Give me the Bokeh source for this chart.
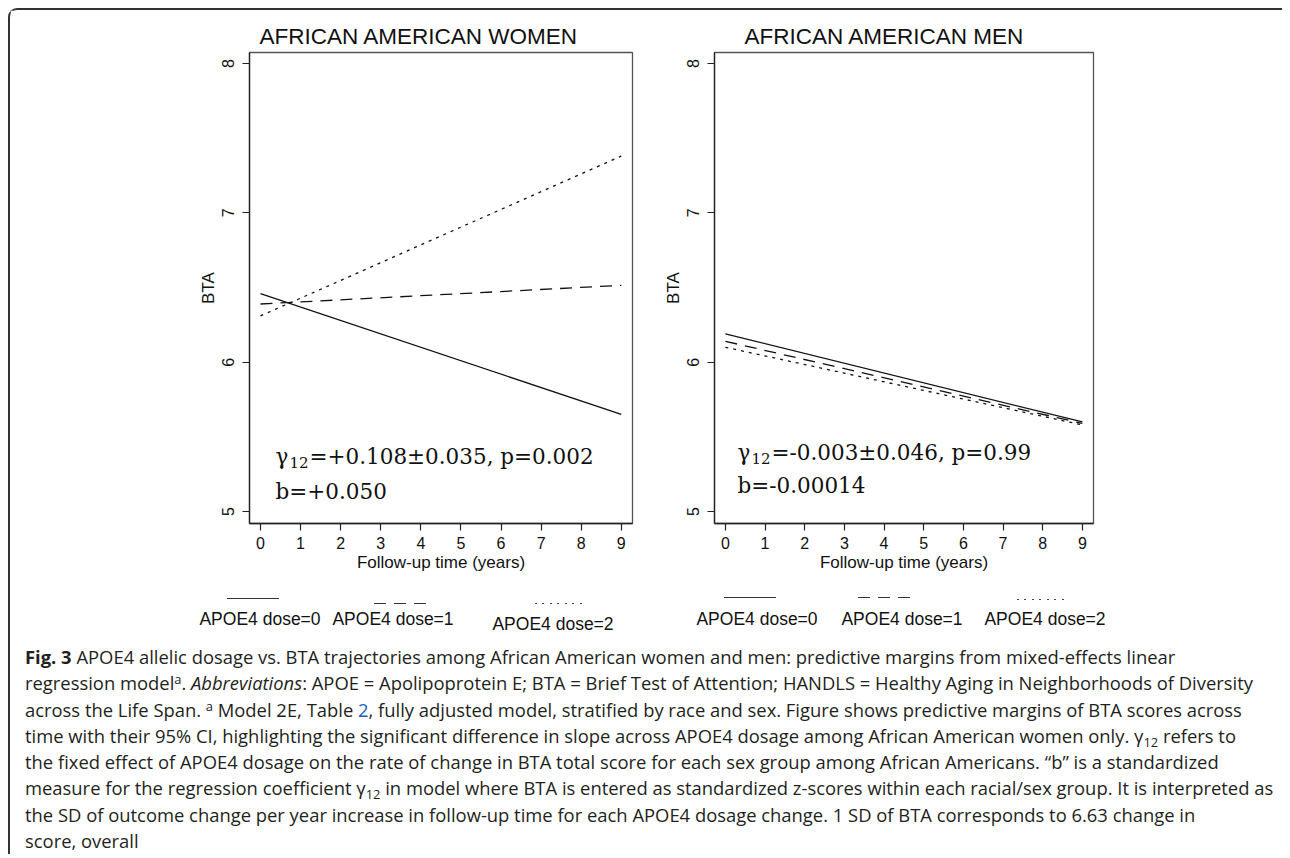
from bokeh.plotting import figure
from bokeh.models import Range1d, Label, Div, FixedTicker
from bokeh.layouts import row, column
from bokeh.embed import file_html
from bokeh.resources import INLINE

# ---------------- data ----------------
years = [0, 9]
women_dose0 = [6.46, 5.65]
women_dose1 = [6.39, 6.515]
women_dose2 = [6.31, 7.38]
men_dose0 = [6.19, 5.60]
men_dose1 = [6.14, 5.59]
men_dose2 = [6.10, 5.58]
x_ticks = [0, 1, 2, 3, 4, 5, 6, 7, 8, 9]
y_ticks = [5, 6, 7, 8]
legend_labels = ["APOE4 dose=0", "APOE4 dose=1", "APOE4 dose=2"]
panel_titles = ["AFRICAN AMERICAN WOMEN", "AFRICAN AMERICAN MEN"]
women_stats = ["=+0.108\u00b10.035, p=0.002", "b=+0.050"]
men_stats = ["=-0.003\u00b10.046, p=0.99", "b=-0.00014"]
x_label = "Follow-up time (years)"
y_label = "BTA"

DASHES = ["solid", "12 8", "3 5"]
SANS = "Liberation Sans"
SERIF = "DejaVu Serif"
INK = "#111111"


def make_panel(series, title, stats, width, bl, br, title_dx, stat_dx, stat_dy):
    p = figure(width=width, height=565, x_range=Range1d(-0.274, 9.28),
               y_range=Range1d(4.92, 8.074), min_border_left=bl, min_border_right=br,
               min_border_top=42, min_border_bottom=52,
               output_backend="svg", toolbar_location=None)
    p.grid.visible = False
    p.outline_line_color = "#555555"
    p.outline_line_width = 1.3

    p.title.text = title
    p.title.align = "left"
    p.title.offset = title_dx
    p.title.standoff = 7
    p.title.text_font = SANS
    p.title.text_font_size = "22.5px"
    p.title.text_font_style = "normal"
    p.title.text_color = INK

    for ax in (p.xaxis[0], p.yaxis[0]):
        ax.axis_line_color = "#222222"
        ax.axis_line_width = 1.3
        ax.major_tick_line_color = "#222222"
        ax.major_tick_line_width = 1.2
        ax.major_tick_out = 7
        ax.major_tick_in = 0
        ax.minor_tick_line_color = None
        ax.major_label_text_font = SANS
        ax.major_label_text_font_size = "16px"
        ax.major_label_text_color = INK
        ax.axis_label_text_font = SANS
        ax.axis_label_text_font_size = "17px"
        ax.axis_label_text_font_style = "normal"
        ax.axis_label_text_color = INK
    p.xaxis.ticker = FixedTicker(ticks=x_ticks)
    p.yaxis.ticker = FixedTicker(ticks=y_ticks)
    p.yaxis.major_label_orientation = "vertical"
    p.xaxis.axis_label = x_label
    p.yaxis.axis_label = y_label
    p.xaxis.major_label_standoff = 6
    p.xaxis.axis_label_standoff = 1
    p.yaxis.major_label_standoff = 8
    p.yaxis.axis_label_standoff = 2

    for ys, dash in zip(series, DASHES):
        p.line(years, ys, line_color=INK, line_width=1.3, line_dash=dash)

    y1, y2 = stat_dy
    p.add_layout(Label(x=stat_dx, y=y1, x_units="screen", y_units="screen", text="\u03b3",
                       text_font=SERIF, text_font_size="21.5px", text_color=INK,
                       text_baseline="alphabetic"))
    p.add_layout(Label(x=stat_dx + 14, y=y1 - 6, x_units="screen", y_units="screen", text="12",
                       text_font=SERIF, text_font_size="15px", text_color=INK,
                       text_baseline="alphabetic"))
    p.add_layout(Label(x=stat_dx + 34, y=y1, x_units="screen", y_units="screen", text=stats[0],
                       text_font=SERIF, text_font_size="21.5px", text_color=INK,
                       text_baseline="alphabetic"))
    p.add_layout(Label(x=stat_dx, y=y2, x_units="screen", y_units="screen", text=stats[1],
                       text_font=SERIF, text_font_size="21.5px", text_color=INK,
                       text_baseline="alphabetic"))
    return p


p1 = make_panel([women_dose0, women_dose1, women_dose2], panel_titles[0], women_stats,
                width=650, bl=239, br=28, title_dx=10, stat_dx=26, stat_dy=(67, 32))
p2 = make_panel([men_dose0, men_dose1, men_dose2], panel_titles[1], men_stats,
                width=622, bl=50, br=189, title_dx=30, stat_dx=23, stat_dy=(71, 38))

# ---------------- key strip (samples above their labels) ----------------
SAMPLE_BG = {
    "solid": "#333333",
    "12 8": "repeating-linear-gradient(to right, #333 0 12px, transparent 12px 20px)",
    "3 5": "repeating-linear-gradient(to right, #444 0 2px, transparent 2px 7.5px)",
}
key_samples = [(217, 22.5), (364, 27.5), (525, 27.5), (714, 21.5), (848, 21.5), (1007, 23.5)]
key_texts = [(250, 44), (383, 44), (543, 49), (747, 44), (892, 44), (1035, 44)]
parts = []
for i, ((sx, sy), (tx, ty)) in enumerate(zip(key_samples, key_texts)):
    dash = DASHES[i % 3]
    parts.append(
        f"<div style='position:absolute;left:{sx}px;top:{sy}px;width:52px;height:1.4px;"
        f"background:{SAMPLE_BG[dash]}'></div>")
    parts.append(
        f"<div style='position:absolute;left:{tx}px;top:{ty}px;transform:translate(-50%,-50%);"
        f"white-space:nowrap;font-family:\"{SANS}\";font-size:17.5px;color:{INK}'>"
        f"{legend_labels[i % 3]}</div>")
key = Div(text="<div style='position:relative;width:1272px;height:65px'>" + "".join(parts) + "</div>",
          width=1272, height=65, margin=0)

SUP = "<span style='font-size:0.7em;vertical-align:0.45em;line-height:0'>a</span>"
SUB = "<span style='font-size:0.7em;vertical-align:-0.3em;line-height:0'>12</span>"
caption_html = (
    "<b>Fig. 3</b> APOE4 allelic dosage vs. BTA trajectories among African American women and men: "
    "predictive margins from mixed-effects linear<br>"
    "regression model" + SUP + ". <i>Abbreviations</i>: APOE = Apolipoprotein E; BTA = Brief Test of "
    "Attention; HANDLS = Healthy Aging in Neighborhoods of Diversity<br>"
    "across the Life Span. " + SUP + " Model 2E, Table <span style='color:#1a5fb4'>2</span>, fully adjusted "
    "model, stratified by race and sex. Figure shows predictive margins of BTA scores across<br>"
    "time with their 95% CI, highlighting the significant difference in slope across APOE4 dosage among "
    "African American women only. \u03b3" + SUB + " refers to<br>"
    "the fixed effect of APOE4 dosage on the rate of change in BTA total score for each sex group among "
    "African Americans. \u201cb\u201d is a standardized<br>"
    "measure for the regression coefficient \u03b3" + SUB + " in model where BTA is entered as "
    "standardized z-scores within each racial/sex group. It is interpreted as<br>"
    "the SD of outcome change per year increase in follow-up time for each APOE4 dosage change. "
    "1 SD of BTA corresponds to 6.63 change in<br>"
    "score, overall"
)
caption = Div(text=caption_html, width=1255, margin=(4, 0, 0, 15),
              styles={"font-family": "'Open Sans', sans-serif", "font-size": "18.4px",
                      "line-height": "26.3px", "color": "#231f20", "white-space": "nowrap"})

layout = column(row(p1, p2), key, caption, margin=(8, 0, 0, 8),
                styles={"border-left": "2px solid #333", "border-top": "2px solid #333",
                        "border-top-left-radius": "9px"})

open("out.html", "w").write(file_html(layout, INLINE))
